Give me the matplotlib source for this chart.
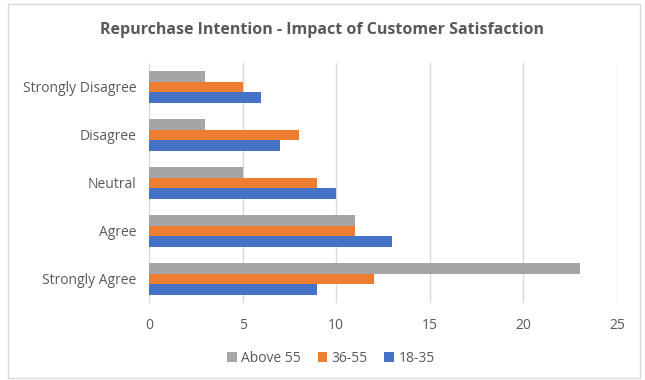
import numpy as np
import matplotlib
matplotlib.use("Agg")
from matplotlib import pyplot as plt
from matplotlib.patches import Rectangle

categories = ["Strongly Agree", "Agree", "Neutral", "Disagree", "Strongly Disagree"]
age_18_35 = [9, 13, 10, 7, 6]
age_36_55 = [12, 11, 9, 8, 5]
above_55 = [23, 11, 5, 3, 3]

plt.rcParams['font.family'] = ['Open Sans', 'DejaVu Sans']
txt = '#595959'

fig = plt.figure(figsize=(6.45, 3.8), dpi=100)
ax = fig.add_axes([149 / 645, 1 - 303 / 380, (617 - 149) / 645, (303 - 63) / 380])

# outer chart border
fig.patches.append(Rectangle((8 / 645, 2 / 380), 632 / 645, 374 / 380, transform=fig.transFigure,
                             fill=False, edgecolor='#d9d9d9', linewidth=1))

y = np.arange(len(categories))
h = 0.22
ax.barh(y - h, age_18_35, height=h, color='#4472c4', label='18-35', zorder=3)
ax.barh(y, age_36_55, height=h, color='#ed7d31', label='36-55', zorder=3)
ax.barh(y + h, above_55, height=h, color='#a5a5a5', label='Above 55', zorder=3)

ax.set_xlim(0, 25)
ax.set_ylim(-0.5, len(categories) - 0.5)
ax.set_xticks(range(0, 26, 5))
ax.set_yticks(y)
ax.set_yticklabels(categories)
ax.tick_params(length=0, labelsize=10, colors=txt)
ax.tick_params(axis='x', pad=11)
ax.tick_params(axis='y', pad=9)
for s in ax.spines.values():
    s.set_visible(False)
ax.grid(axis='x', color='#d9d9d9', linewidth=1, zorder=0)

fig.text(0.5, 1 - 30 / 380, "Repurchase Intention - Impact of Customer Satisfaction",
         ha='center', va='center', fontsize=11.5, fontweight='bold', color=txt)

handles, labels = ax.get_legend_handles_labels()
fig.legend(handles[::-1], labels[::-1], loc='center', bbox_to_anchor=(331 / 645, 1 - 358 / 380),
           ncol=3, frameon=False, fontsize=10, labelcolor=txt, handlelength=0.7,
           handleheight=0.7, handletextpad=0.3, columnspacing=1.2)

fig.savefig('out.png', dpi=100)
